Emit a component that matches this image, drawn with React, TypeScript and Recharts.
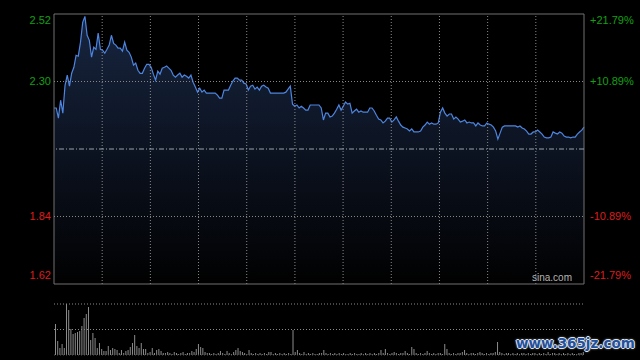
import {
  AreaChart,
  Area,
  BarChart,
  Bar,
  XAxis,
  YAxis,
  ReferenceLine,
  ReferenceArea,
} from "recharts";

const PREV_CLOSE = 2.07;
const MAX_PCT = 21.79;
const PCT_TICKS = [21.79, 10.89, -10.89, -21.79];
const LAST_MINUTE = 240;
const GRID_COLS = 11;
const VOL_MAX = 51;

// one value per trading minute
const prices = [
  2.207, 2.207, 2.173, 2.233, 2.19, 2.283, 2.317, 2.28, 2.323, 2.343,
  2.383, 2.38, 2.427, 2.493, 2.513, 2.45, 2.433, 2.377, 2.41, 2.403,
  2.457, 2.403, 2.4, 2.39, 2.403, 2.417, 2.45, 2.423, 2.417, 2.407,
  2.407, 2.397, 2.427, 2.4, 2.393, 2.377, 2.35, 2.357, 2.333, 2.323,
  2.323, 2.34, 2.353, 2.353, 2.343, 2.32, 2.3, 2.33, 2.32, 2.34,
  2.343, 2.347, 2.34, 2.333, 2.317, 2.31, 2.317, 2.323, 2.31, 2.317,
  2.313, 2.307, 2.317, 2.293, 2.277, 2.26, 2.273, 2.26, 2.267, 2.257,
  2.257, 2.257, 2.257, 2.257, 2.25, 2.24, 2.24, 2.267, 2.267, 2.267,
  2.283, 2.297, 2.307, 2.307, 2.3, 2.3, 2.29, 2.287, 2.267, 2.28,
  2.283, 2.27, 2.277, 2.267, 2.28, 2.283, 2.277, 2.273, 2.257, 2.257,
  2.257, 2.257, 2.257, 2.257, 2.257, 2.26, 2.27, 2.28, 2.22, 2.213,
  2.217, 2.207, 2.213, 2.207, 2.2, 2.2, 2.217, 2.217, 2.217, 2.217,
  2.217, 2.207, 2.167, 2.19, 2.19, 2.177, 2.18, 2.19, 2.203, 2.217,
  2.2, 2.213, 2.227, 2.22, 2.223, 2.19, 2.197, 2.203, 2.193, 2.197,
  2.193, 2.193, 2.193, 2.207, 2.207, 2.197, 2.183, 2.17, 2.167, 2.157,
  2.163, 2.173, 2.173, 2.16, 2.167, 2.177, 2.163, 2.15, 2.143, 2.14,
  2.137, 2.13, 2.137, 2.127, 2.127, 2.127, 2.13, 2.143, 2.15, 2.16,
  2.153, 2.157, 2.153, 2.153, 2.157, 2.193, 2.207, 2.19, 2.18, 2.187,
  2.187, 2.17, 2.177, 2.17, 2.16, 2.163, 2.167, 2.157, 2.16, 2.157,
  2.157, 2.147, 2.157, 2.15, 2.147, 2.147, 2.157, 2.153, 2.15, 2.143,
  2.13, 2.103, 2.123, 2.143, 2.147, 2.147, 2.147, 2.147, 2.147, 2.147,
  2.143, 2.147, 2.14, 2.137, 2.13, 2.12, 2.12, 2.127, 2.127, 2.133,
  2.127, 2.12, 2.11, 2.107, 2.107, 2.11, 2.127, 2.123, 2.12, 2.127,
  2.123, 2.113, 2.11, 2.11, 2.107, 2.11, 2.11, 2.12, 2.127, 2.133, 2.143,
];

const volumes = [
  31, 14, 7, 11, 7, 51, 45, 26, 21, 22, 23, 24, 29, 37, 41, 48,
  15, 22, 17, 7, 12, 6, 4, 4, 9, 5, 7, 6, 5, 2, 5, 2, 4, 5, 8, 12,
  20, 9, 7, 12, 6, 6, 2, 3, 7, 2, 5, 6, 4, 2, 2, 3,
  2, 1, 3, 2, 1, 2, 3, 1, 2, 2,
  4, 3, 6, 11, 8, 7, 3, 2, 2,
  1, 2, 1, 2, 4, 2, 1, 4, 2, 1,
  3, 5, 7, 4, 3, 2, 1, 5, 2, 1,
  2, 1, 2, 1, 2, 1, 3, 3, 1, 2,
  1, 2, 1, 2, 1, 2, 1, 25, 3, 5,
  2, 1, 3, 1, 2, 1, 2, 1, 1, 2,
  2, 5, 2, 1, 2, 1, 2, 1, 2, 1,
  2, 1, 1, 2, 1, 2, 1, 1, 2, 1,
  2, 1, 2, 1, 2, 1, 2, 5, 2, 6,
  2, 1, 2, 3, 2, 1, 2, 2, 4, 2,
  1, 8, 6, 2, 1, 2, 1, 2, 4, 2,
  1, 2, 1, 2, 2, 1, 11, 6, 2, 1,
  2, 1, 2, 2, 3, 5, 2, 1, 2, 2,
  1, 2, 3, 2, 1, 2, 1, 2, 2, 3,
  13, 3, 2, 1, 2, 2, 1, 2, 1, 2,
  1, 2, 2, 1, 2, 1, 2, 2, 1, 2,
  1, 2, 1, 3, 1, 2, 2, 1, 2, 1,
  2, 1, 2, 1, 2, 1, 1, 2, 2, 3,
];

const priceData = prices.map((price, t) => ({ t, price }));
const volumeData = volumes.map((vol, t) => ({ t, vol }));

const PRICE_MIN = PREV_CLOSE * (1 - MAX_PCT / 100);
const PRICE_MAX = PREV_CLOSE * (1 + MAX_PCT / 100);
const priceTicks = PCT_TICKS.map((p) => PREV_CLOSE * (1 + p / 100));
const gridMinutes = Array.from(
  { length: GRID_COLS - 1 },
  (_, k) => ((k + 1) * LAST_MINUTE) / GRID_COLS
);

const GREEN = "#12a112";
const RED = "#dd1c1c";
const FONT = "Arial, 'Liberation Sans', sans-serif";

function edgeShift(pct: number) {
  if (pct > MAX_PCT - 0.01) return 6;
  if (pct < -MAX_PCT + 0.01) return -6;
  return 0;
}

function PriceTick(props: any) {
  const { x, y, payload } = props;
  const pct = (payload.value / PREV_CLOSE - 1) * 100;
  return (
    <text
      x={x}
      y={y + edgeShift(pct)}
      dy="0.35em"
      textAnchor="end"
      fill={pct > 0 ? GREEN : RED}
      fontSize={11}
      fontFamily={FONT}
    >
      {payload.value.toFixed(2)}
    </text>
  );
}

function PctTick(props: any) {
  const { x, y, payload } = props;
  const pct = payload.value;
  return (
    <text
      x={x}
      y={y + edgeShift(pct)}
      dy="0.35em"
      textAnchor="start"
      fill={pct > 0 ? GREEN : RED}
      fontSize={11}
      fontFamily={FONT}
    >
      {(pct > 0 ? "+" : "") + pct.toFixed(2) + "%"}
    </text>
  );
}

export default function App() {
  return (
    <div
      style={{
        position: "absolute",
        left: 0,
        top: 0,
        width: 640,
        height: 360,
        background: "#000",
        overflow: "hidden",
      }}
    >
      <div style={{ position: "absolute", left: 0, top: 0 }}>
        <AreaChart
          width={640}
          height={290}
          data={priceData}
          margin={{ top: 14, right: 0, bottom: 6, left: 0 }}
        >
          <defs>
            <linearGradient id="priceFill" x1="0" y1="0" x2="0" y2="1">
              <stop offset="0%" stopColor="#17253f" />
              <stop offset="50%" stopColor="#0c1321" />
              <stop offset="100%" stopColor="#010101" />
            </linearGradient>
          </defs>
          <XAxis dataKey="t" type="number" domain={[0, LAST_MINUTE]} hide />
          <YAxis
            yAxisId="price"
            type="number"
            width={54}
            domain={[PRICE_MIN, PRICE_MAX]}
            ticks={priceTicks}
            allowDataOverflow
            axisLine={false}
            tickLine={false}
            tickSize={0}
            tickMargin={3}
            tick={PriceTick}
          />
          <YAxis
            yAxisId="pct"
            orientation="right"
            type="number"
            width={56}
            domain={[-MAX_PCT, MAX_PCT]}
            ticks={PCT_TICKS}
            allowDataOverflow
            axisLine={false}
            tickLine={false}
            tickSize={0}
            tickMargin={6}
            tick={PctTick}
          />
          {gridMinutes.map((m) => (
            <ReferenceLine
              key={m}
              yAxisId="price"
              x={m}
              stroke="#8a8a8a"
              strokeDasharray="1 2"
            />
          ))}
          {priceTicks.slice(1, 3).map((p) => (
            <ReferenceLine
              key={p}
              yAxisId="price"
              y={p}
              stroke="#8a8a8a"
              strokeDasharray="1 2"
            />
          ))}
          <Area
            yAxisId="price"
            type="linear"
            dataKey="price"
            stroke="#4d85e0"
            strokeWidth={1.2}
            fill="url(#priceFill)"
            fillOpacity={1}
            dot={false}
            activeDot={false}
            isAnimationActive={false}
          />
          <ReferenceLine
            yAxisId="pct"
            y={0}
            stroke="#9aa3b2"
            strokeDasharray="5 2 1 2"
          />
          <ReferenceArea
            yAxisId="price"
            x1={0}
            x2={LAST_MINUTE}
            y1={PRICE_MIN}
            y2={PRICE_MAX}
            fill="none"
            stroke="#707070"
            ifOverflow="visible"
          />
        </AreaChart>
      </div>

      <div style={{ position: "absolute", left: 0, top: 290 }}>
        <BarChart
          width={640}
          height={70}
          data={volumeData}
          margin={{ top: 14, right: 56, bottom: 5, left: 54 }}
          barCategoryGap={0}
        >
          <XAxis dataKey="t" hide />
          <YAxis
            width={0}
            domain={[0, VOL_MAX]}
            tick={false}
            tickLine={false}
            axisLine={{ stroke: "#707070" }}
          />
          <YAxis
            yAxisId="right"
            orientation="right"
            width={0}
            domain={[0, VOL_MAX]}
            tick={false}
            tickLine={false}
            axisLine={{ stroke: "#707070" }}
          />
          <ReferenceLine y={VOL_MAX} stroke="#8a8a8a" strokeDasharray="1 2" />
          <ReferenceLine y={VOL_MAX / 2} stroke="#8a8a8a" strokeDasharray="1 2" />
          <ReferenceLine y={0} stroke="#555" strokeDasharray="1 2" />
          <Bar
            dataKey="vol"
            fill="#8c8c8c"
            barSize={1}
            isAnimationActive={false}
          />
        </BarChart>
      </div>

      <div
        style={{
          position: "absolute",
          left: 532,
          top: 272,
          fontFamily: FONT,
          fontSize: 10,
          color: "#b4b4b4",
          textShadow: "0 0 1px #000",
        }}
      >
        sina.com
      </div>

      <div
        style={{
          position: "absolute",
          left: 516,
          top: 335,
          fontFamily: "'DejaVu Sans', sans-serif",
          fontWeight: "bold",
          fontSize: 13.5,
          color: "#24509c",
          textShadow:
            "1px 0 0 #dfe6ee, -1px 0 0 #dfe6ee, 0 1px 0 #dfe6ee, 0 -1px 0 #dfe6ee, 0 0 3px #fff",
        }}
      >
        www.365jz.com
      </div>
    </div>
  );
}
